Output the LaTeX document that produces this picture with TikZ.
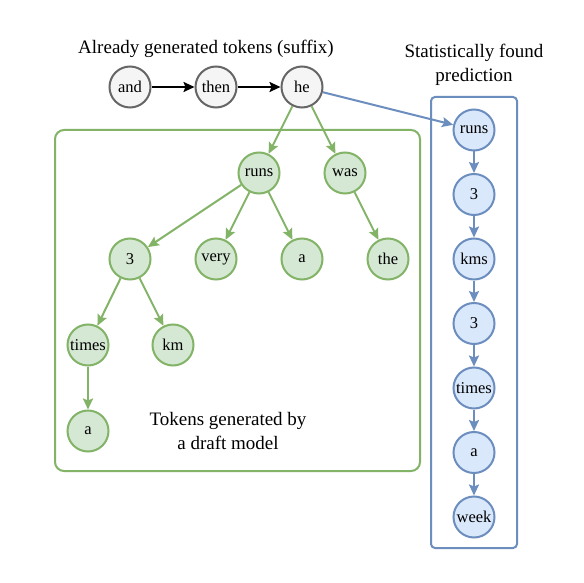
\documentclass[tikz,border=0pt]{standalone}
\usepackage{fontspec}
\setmainfont{Liberation Serif}
\newfontfamily\tokenfont{Liberation Serif}
\usetikzlibrary{arrows.meta}
\definecolor{suffixfill}{HTML}{F5F5F5}
\definecolor{suffixline}{HTML}{666666}
\definecolor{draftfill}{HTML}{D5E8D4}
\definecolor{draftline}{HTML}{82B366}
\definecolor{foundfill}{HTML}{DAE8FC}
\definecolor{foundline}{HTML}{6C8EBF}
\tikzset{
    token/.style={circle, line width=2pt, minimum size=41pt, inner sep=0pt,
        font=\tokenfont\fontsize{16.5}{19}\selectfont},
    suffix/.style={token, draw=suffixline, fill=suffixfill},
    draft/.style={token, draw=draftline, fill=draftfill},
    found/.style={token, draw=foundline, fill=foundfill},
    link/.style={line width=2pt, -{Stealth[length=11pt, width=10pt, inset=2pt]}},
    caption/.style={align=center, font=\tokenfont\fontsize{19}{24}\selectfont}
}
\begin{document}
\begin{tikzpicture}[x=1pt, y=-1pt]
    \useasboundingbox[fill=white] (0,0) rectangle (584,583);
    % frames
    \draw[draftline, line width=2pt, rounded corners=9pt] (55,130) rectangle (420,471);
    \draw[foundline, line width=2pt, rounded corners=4pt] (431,97) rectangle (517,548);
    % captions
    \node[caption] (suffixcap) at (206,49) {Already generated tokens (suffix)};
    \node[caption] (foundcap) at (474,65) {Statistically found\\prediction};
    \node[caption] (draftcap) at (228,431) {Tokens generated by\\a draft model};
    % suffix
    \node[suffix] (and) at (130,87) {and};
    \node[suffix] (then) at (216,87) {then};
    \node[suffix] (he) at (302,87) {he};
    \draw[link] (and) -- (then);
    \draw[link] (then) -- (he);
    % draft tree
    \node[draft] (runs) at (259,173) {runs};
    \node[draft] (was) at (345,173) {was};
    \node[draft] (three) at (130,259) {3};
    \node[draft] (very) at (216,259) {very};
    \node[draft] (a) at (302,259) {a};
    \node[draft] (the) at (388,259) {the};
    \node[draft] (times) at (88,345) {times};
    \node[draft] (km) at (173,345) {km};
    \node[draft] (timesa) at (88,431) {a};
    \foreach \from/\to in {he/runs, he/was, runs/three, runs/very, runs/a,
        was/the, three/times, three/km, times/timesa}
        \draw[link, draftline] (\from) -- (\to);
    % statistical prediction
    \foreach \name/\word [count=\i from 0] in {p0/runs, p1/3, p2/kms, p3/3,
        p4/times, p5/a, p6/week}
        \node[found] (\name) at (474,130+64.5*\i) {\word};
    \foreach \from/\to in {p0/p1, p1/p2, p2/p3, p3/p4, p4/p5, p5/p6}
        \draw[link, foundline] (\from) -- (\to);
    \draw[link, foundline] (he) -- (p0);
\end{tikzpicture}
\end{document}
